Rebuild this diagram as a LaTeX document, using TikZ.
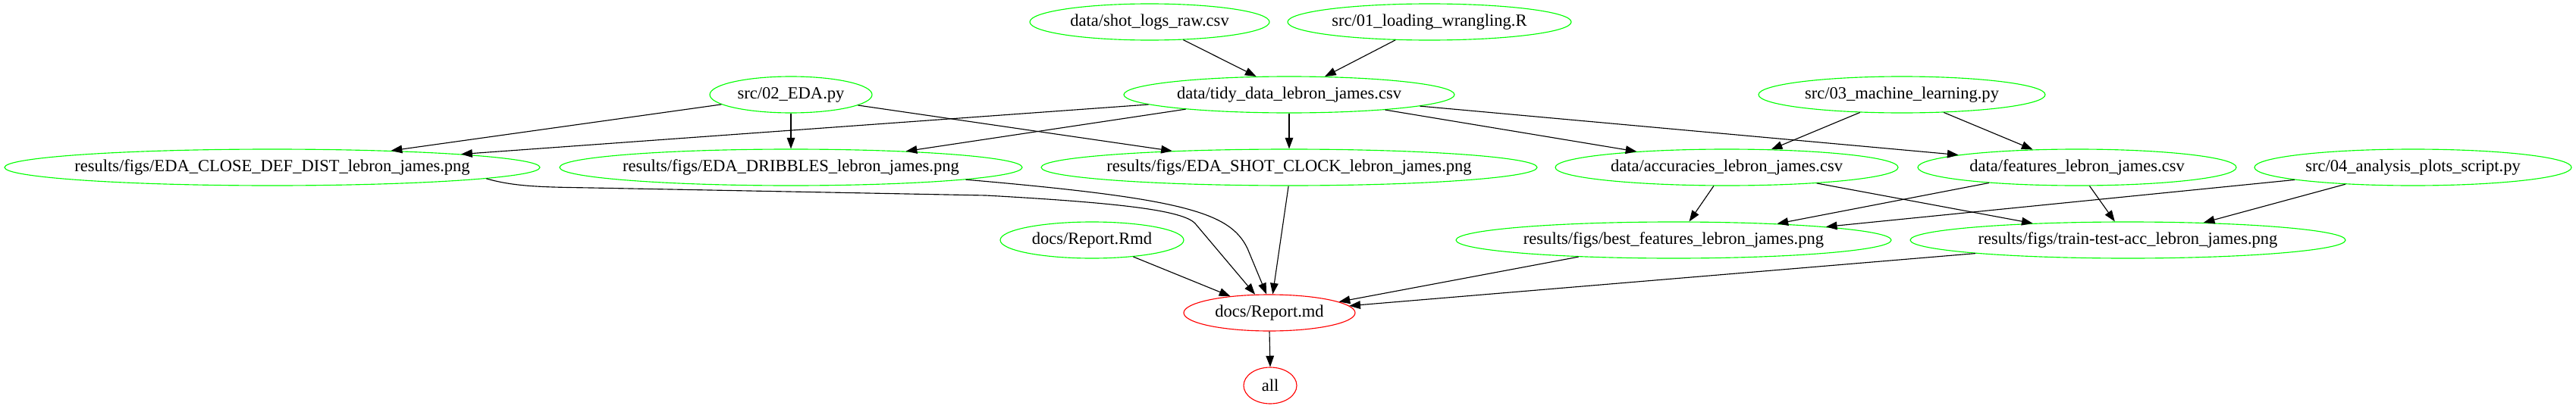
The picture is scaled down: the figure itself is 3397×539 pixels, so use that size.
\documentclass[tikz,border=0pt]{standalone}
\usepackage{fontspec}
\setmainfont{Liberation Serif}
\usetikzlibrary{shapes.geometric,arrows.meta}
\begin{document}
\begin{tikzpicture}[x=0.75pt,y=-0.75pt,
  gnode/.style={ellipse,draw=green,line width=0.85pt,inner sep=0pt,minimum height=36pt,
     font=\fontsize{16.9}{20}\selectfont},
  rnode/.style={gnode,draw=red},
  edge/.style={draw=black,line width=0.85pt,-{Triangle[length=11pt,width=8pt]}}]
\useasboundingbox (0,0) rectangle (3397,539);
% nodes
\node[gnode,minimum width=237pt]   (shot)  at (1516,29)  {\makebox[0pt]{data/shot\_logs\_raw.csv}};
\node[gnode,minimum width=280.5pt] (load)  at (1885,29)  {\makebox[0pt]{src/01\_loading\_wrangling.R}};
\node[gnode,minimum width=160.5pt] (eda)   at (1043,125) {\makebox[0pt]{src/02\_EDA.py}};
\node[gnode,minimum width=327pt]   (tidy)  at (1700,125) {\makebox[0pt]{data/tidy\_data\_lebron\_james.csv}};
\node[gnode,minimum width=283.5pt] (ml)    at (2508,125) {\makebox[0pt]{src/03\_machine\_learning.py}};
\node[gnode,minimum width=529.5pt] (close) at (359,221)  {\makebox[0pt]{results/figs/EDA\_CLOSE\_DEF\_DIST\_lebron\_james.png}};
\node[gnode,minimum width=457.5pt] (drib)  at (1043,221) {\makebox[0pt]{results/figs/EDA\_DRIBBLES\_lebron\_james.png}};
\node[gnode,minimum width=490.5pt] (clock) at (1700,221) {\makebox[0pt]{results/figs/EDA\_SHOT\_CLOCK\_lebron\_james.png}};
\node[gnode,minimum width=339pt]   (acc)   at (2277,221) {\makebox[0pt]{data/accuracies\_lebron\_james.csv}};
\node[gnode,minimum width=315pt]   (feat)  at (2739,221) {\makebox[0pt]{data/features\_lebron\_james.csv}};
\node[gnode,minimum width=313.5pt] (ap)    at (3182,221) {\makebox[0pt]{src/04\_analysis\_plots\_script.py}};
\node[gnode,minimum width=181.5pt] (rmd)   at (1440,317) {\makebox[0pt]{docs/Report.Rmd}};
\node[gnode,minimum width=430.5pt] (best)  at (2207,317) {\makebox[0pt]{results/figs/best\_features\_lebron\_james.png}};
\node[gnode,minimum width=430.5pt] (tt)    at (2806,317) {\makebox[0pt]{results/figs/train-test-acc\_lebron\_james.png}};
\node[rnode,minimum width=169.5pt] (md)    at (1674,413) {\makebox[0pt]{docs/Report.md}};
\node[rnode,minimum width=52.5pt]  (all)   at (1675,509) {\makebox[0pt]{all}};
% edges
\draw[edge] (shot.-28.6) -- (tidy.151.9);
\draw[edge] (load.208.6) -- (tidy.27.1);
\draw[edge] (eda.188.8) -- (close.8.3);
\draw[edge] (eda.-90) -- (drib.90);
\draw[edge] (eda.-9) -- (clock.172);
\draw[edge] (tidy.184.5) -- (close.4.6);
\draw[edge] (tidy.188.5) -- (drib.8.5);
\draw[edge] (tidy.-90) -- (clock.90);
\draw[edge] (tidy.-9.7) -- (acc.170.9);
\draw[edge] (tidy.-5) -- (feat.174.5);
\draw[edge] (ml.203.1) -- (acc.22);
\draw[edge] (ml.-23.5) -- (feat.158);
\draw[edge] (close.-3.9) .. controls (680,247) and (720,247) .. (780,248) -- (1300,258)
   .. controls (1480,268) and (1560,278) .. (1576,295) -- (md.128.7);
\draw[edge] (drib.-4.7) .. controls (1560,262) and (1622,280) .. (1645,328) -- (md.99);
\draw[edge] (clock.-92) -- (md.80.5);
\draw[edge] (rmd.-22.9) -- (md.157.2);
\draw[edge] (acc.235.8) -- (best.50.2);
\draw[edge] (acc.-10.6) -- (tt.170.3);
\draw[edge] (feat.190.6) -- (best.9.8);
\draw[edge] (feat.-56.3) -- (tt.125.3);
\draw[edge] (ap.186.5) -- (best.5.2);
\draw[edge] (ap.194.8) -- (tt.13.9);
\draw[edge] (best.190.6) -- (md.9.9);
\draw[edge] (tt.185.2) -- (md.5.5);
\draw[edge] (md.-90) -- (all.90);
\end{tikzpicture}
\end{document}
